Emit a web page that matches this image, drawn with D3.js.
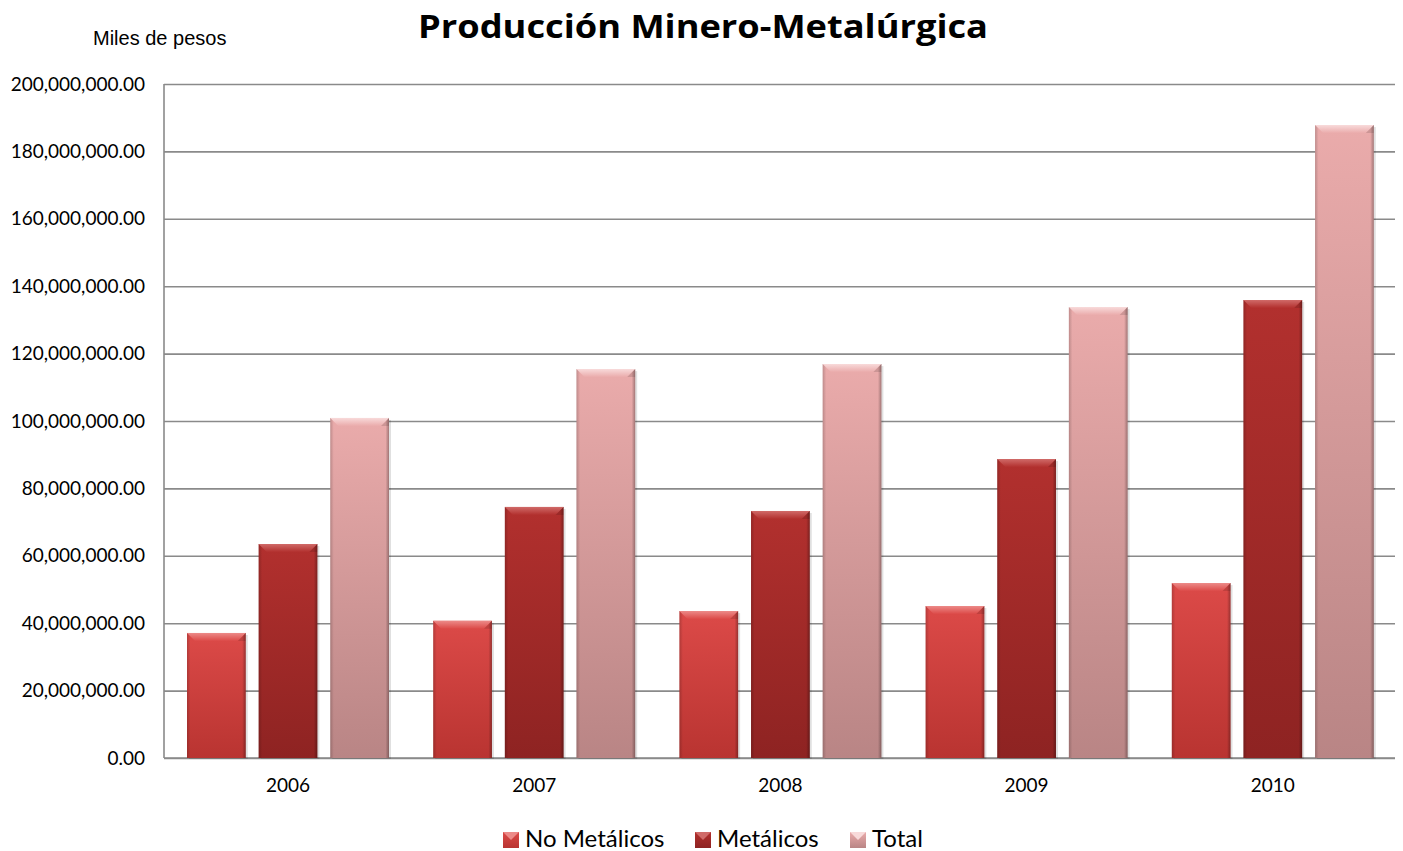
<!DOCTYPE html>
<html>
<head>
<meta charset="utf-8">
<script src="https://cdn.jsdelivr.net/npm/d3@7"></script>
<style>
  body { margin: 0; background: #fff; }
  svg { display: block; }
</style>
</head>
<body>
<svg id="chart" width="1403" height="851"></svg>
<script>
// data
var years = ["2006", "2007", "2008", "2009", "2010"];
var series = ["No Metálicos", "Metálicos", "Total"];
var noMetalicos = [37100000, 40700000, 43600000, 45100000, 51900000];
var metalicos = [63500000, 74500000, 73300000, 88700000, 135900000];
var total = [100900000, 115400000, 116900000, 133800000, 187800000];
var yTicks = [0, 20000000, 40000000, 60000000, 80000000, 100000000, 120000000, 140000000, 160000000, 180000000, 200000000];

var values = [noMetalicos, metalicos, total];
var colors = [
  {top: "#dc4a48", bot: "#b93431", hi: "#ec8a88"},
  {top: "#b2302e", bot: "#8e2322", hi: "#d06a68"},
  {top: "#eaabab", bot: "#b98585", hi: "#f8dada"}
];

var svg = d3.select("#chart");
var plotL = 164, plotR = 1395, plotT = 84, plotB = 758;
var calibri = "Lato, 'Open Sans', sans-serif";

var x0 = d3.scaleBand().domain(years).range([plotL, plotR]);
var x1 = d3.scaleBand().domain(series).range([23, 225]).paddingInner(0.18);
var y = d3.scaleLinear().domain([0, 200000000]).range([plotB, plotT]);

var defs = svg.append("defs");
colors.forEach(function(c, i) {
  var g = defs.append("linearGradient").attr("id", "grad" + i)
    .attr("x1", 0).attr("y1", 0).attr("x2", 0).attr("y2", 1);
  g.append("stop").attr("offset", "0%").attr("stop-color", c.top);
  g.append("stop").attr("offset", "100%").attr("stop-color", c.bot);
  var h = defs.append("linearGradient").attr("id", "side" + i)
    .attr("x1", 0).attr("y1", 0).attr("x2", 1).attr("y2", 0);
  h.append("stop").attr("offset", "0%").attr("stop-color", "#000").attr("stop-opacity", 0.18);
  h.append("stop").attr("offset", "6%").attr("stop-color", "#000").attr("stop-opacity", 0);
  h.append("stop").attr("offset", "94%").attr("stop-color", "#000").attr("stop-opacity", 0);
  h.append("stop").attr("offset", "100%").attr("stop-color", "#000").attr("stop-opacity", 0.3);
  var t = defs.append("linearGradient").attr("id", "bev" + i)
    .attr("x1", 0).attr("y1", 0).attr("x2", 0).attr("y2", 1);
  t.append("stop").attr("offset", "0%").attr("stop-color", c.hi);
  t.append("stop").attr("offset", "100%").attr("stop-color", c.top);
});

// gridlines + y labels
svg.append("g")
  .attr("transform", "translate(" + plotL + ",0)")
  .call(d3.axisLeft(y).tickValues(yTicks).tickSize(-(plotR - plotL)).tickFormat(d3.format(",.2f")))
  .call(function(g) {
    g.select(".domain").remove();
    g.selectAll(".tick line").attr("stroke", "#8a8a8a").attr("stroke-width", 1.6);
    g.selectAll(".tick text").attr("x", -19).attr("fill", "#000")
      .style("font-family", calibri).style("font-size", "19px");
  });

// axis lines
svg.append("line").attr("x1", plotL).attr("x2", plotL).attr("y1", plotT).attr("y2", plotB)
  .attr("stroke", "#8a8a8a").attr("stroke-width", 1.6);
svg.append("line").attr("x1", plotL).attr("x2", plotR).attr("y1", plotB).attr("y2", plotB)
  .attr("stroke", "#8a8a8a").attr("stroke-width", 1.6);

// bars
var bw = x1.bandwidth();
var bev = 8;
years.forEach(function(yr, j) {
  series.forEach(function(s, i) {
    var bx = x0(yr) + x1(s);
    var by = y(values[i][j]);
    var bh = plotB - by;
    var g = svg.append("g");
    g.append("rect").attr("x", bx + 2).attr("y", by + 2).attr("width", bw).attr("height", bh - 1)
      .attr("fill", "#000").attr("opacity", 0.12);
    g.append("rect").attr("x", bx).attr("y", by).attr("width", bw).attr("height", bh)
      .attr("fill", "url(#grad" + i + ")");
    g.append("rect").attr("x", bx).attr("y", by).attr("width", bw).attr("height", bh)
      .attr("fill", "url(#side" + i + ")");
    g.append("path")
      .attr("d", "M" + bx + "," + by + "L" + (bx + bw) + "," + by + "L" + (bx + bw - bev) + "," + (by + bev) +
        "L" + (bx + bev) + "," + (by + bev) + "Z")
      .attr("fill", "url(#bev" + i + ")");
    g.append("path")
      .attr("d", "M" + (bx + bw) + "," + by + "L" + (bx + bw - bev) + "," + (by + bev) + "L" + (bx + bw) + "," + (by + bev) + "Z")
      .attr("fill", "#000").attr("opacity", 0.12);
  });
});

// x labels
svg.append("g").selectAll("text").data(years).join("text")
  .attr("x", function(d) { return x0(d) + 124; })
  .attr("y", 792)
  .attr("text-anchor", "middle")
  .style("font-family", calibri).style("font-size", "19px")
  .text(function(d) { return d; });

// title
svg.append("text").attr("x", 703).attr("y", 38).attr("text-anchor", "middle")
  .style("font-family", "'Open Sans', sans-serif").style("font-weight", "bold").style("font-size", "32px")
  .attr("textLength", 570).attr("lengthAdjust", "spacingAndGlyphs")
  .text("Producción Minero-Metalúrgica");

svg.append("text").attr("x", 93).attr("y", 45)
  .style("font-family", "'Liberation Sans', Arial, sans-serif").style("font-size", "20px")
  .text("Miles de pesos");

// legend
var legX = [503, 695, 850];
var leg = svg.append("g");
series.forEach(function(s, i) {
  var lx = legX[i], ly = 832, sz = 16;
  leg.append("rect").attr("x", lx).attr("y", ly).attr("width", sz).attr("height", sz)
    .attr("fill", "url(#grad" + i + ")");
  leg.append("path")
    .attr("d", "M" + lx + "," + ly + "L" + (lx + sz) + "," + ly + "L" + (lx + sz / 2) + "," + (ly + sz / 2) + "Z")
    .attr("fill", colors[i].hi);
  leg.append("text").attr("x", lx + 22).attr("y", 847)
    .style("font-family", calibri).style("font-size", "24px")
    .text(s);
});
</script>
</body>
</html>
